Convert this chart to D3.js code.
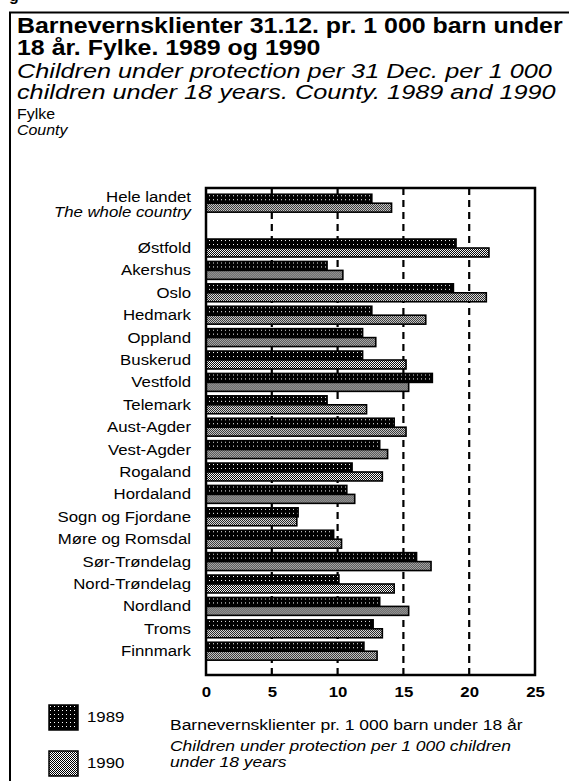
<!DOCTYPE html>
<html>
<head>
<meta charset="utf-8">
<script src="https://cdn.jsdelivr.net/npm/d3@7"></script>
<style>
  html, body { margin: 0; padding: 0; background: #fff; }
  svg { display: block; }
  text { font-family: "Liberation Sans", Arial, Helvetica, sans-serif; fill: #000; }
</style>
</head>
<body>
<svg id="chart" width="569" height="781"></svg>
<script>
// ---------------- data ----------------
const titleNo = ["Barnevernsklienter 31.12. pr. 1 000 barn under", "18 år. Fylke. 1989 og 1990"];
const titleEn = ["Children under protection per 31 Dec. per 1 000", "children under 18 years. County. 1989 and 1990"];
const categories = ["Hele landet", "Østfold", "Akershus", "Oslo", "Hedmark", "Oppland", "Buskerud",
  "Vestfold", "Telemark", "Aust-Agder", "Vest-Agder", "Rogaland", "Hordaland", "Sogn og Fjordane",
  "Møre og Romsdal", "Sør-Trøndelag", "Nord-Trøndelag", "Nordland", "Troms", "Finnmark"];
const totalLabelEn = "The whole country";
const series = ["1989", "1990"];
const values1989 = [12.6, 19.0, 9.2, 18.8, 12.6, 11.9, 11.9, 17.2, 9.2, 14.3, 13.2, 11.1, 10.7, 7.0, 9.7, 16.0, 10.1, 13.2, 12.7, 12.0];
const values1990 = [14.1, 21.5, 10.4, 21.3, 16.7, 12.9, 15.2, 15.4, 12.2, 15.2, 13.8, 13.4, 11.3, 6.9, 10.3, 17.1, 14.3, 15.4, 13.4, 13.0];
const xTicks = [0, 5, 10, 15, 20, 25];
const gridValues = [5, 10, 15, 20];
const axisTitleNo = "Barnevernsklienter pr. 1 000 barn under 18 år";
const axisTitleEn = ["Children under protection per 1 000 children", "under 18 years"];
const yLabelNo = "Fylke", yLabelEn = "County";

// ---------------- setup ----------------
const svg = d3.select("#chart");
const defs = svg.append("defs");

// 1989: black with sparse white dots
const p89 = defs.append("pattern").attr("id", "pat89").attr("patternUnits", "userSpaceOnUse")
  .attr("width", 4).attr("height", 4);
p89.append("rect").attr("width", 4).attr("height", 4).attr("fill", "#000");
p89.append("rect").attr("x", 1).attr("y", 1).attr("width", 1).attr("height", 1).attr("fill", "#fff");
// 1990: fine checker stipple
const p90 = defs.append("pattern").attr("id", "pat90").attr("patternUnits", "userSpaceOnUse")
  .attr("width", 2).attr("height", 2);
p90.append("rect").attr("width", 2).attr("height", 2).attr("fill", "#fff");
p90.append("rect").attr("x", 0).attr("y", 0).attr("width", 1).attr("height", 1).attr("fill", "#000");
p90.append("rect").attr("x", 1).attr("y", 1).attr("width", 1).attr("height", 1).attr("fill", "#000");
const fills = { "1989": "url(#pat89)", "1990": "url(#pat90)" };

function stretch(sel, sx) {
  sel.each(function () {
    const t = d3.select(this);
    const x = +t.attr("x") || 0, y = +t.attr("y") || 0;
    t.attr("transform", `translate(${x},${y}) scale(${sx},1) translate(${-x},${-y})`);
  });
}
function fitSX(node, target) { return target / node.getComputedTextLength(); }

// outer frame (partially cropped)
svg.append("path").attr("d", "M10,781 V12.5 H569").attr("fill", "none").attr("stroke", "#000").attr("stroke-width", 2);
// cropped caption fragment above frame
svg.append("text").attr("x", 9).attr("y", 1).attr("font-size", 16).attr("font-weight", "bold").text("g");

// titles
const tl = svg.append("g").selectAll("text").data(titleNo).join("text")
  .attr("x", 17).attr("y", (d, i) => 33 + i * 22.5)
  .attr("font-size", 21.5).attr("font-weight", "bold").text(d => d);
stretch(tl, fitSX(tl.nodes()[0], 546));

const sl = svg.append("g").selectAll("text").data(titleEn).join("text")
  .attr("x", 17).attr("y", (d, i) => 78 + i * 21.5)
  .attr("font-size", 21).attr("font-style", "italic").text(d => d);
stretch(sl, fitSX(sl.nodes()[1], 539));

const LSX = 1.12;
const yl = svg.append("g");
yl.append("text").attr("x", 17).attr("y", 119).attr("font-size", 14.5).text(yLabelNo);
yl.append("text").attr("x", 17).attr("y", 135.5).attr("font-size", 14.5).attr("font-style", "italic").text(yLabelEn);
stretch(yl.selectAll("text"), 1.1);

// scales
const slots = [categories[0], "__gap__", ...categories.slice(1)];
const y = d3.scaleBand().domain(slots).range([192, 662.4]).paddingInner(0.2).paddingOuter(0.1);
const ySub = d3.scaleBand().domain(series).range([0, y.bandwidth()]);
const x = d3.scaleLinear().domain([0, 25]).range([206, 535]);

// gridlines
svg.append("g").selectAll("line").data(gridValues).join("line")
  .attr("x1", d => x(d)).attr("x2", d => x(d)).attr("y1", 188).attr("y2", 675)
  .attr("stroke", "#000").attr("stroke-width", 2.2).attr("stroke-dasharray", "7,5");

// bars
const rows = categories.map((c, i) => ({ cat: c, vals: [values1989[i], values1990[i]] }));
const rowG = svg.append("g").selectAll("g").data(rows).join("g")
  .attr("transform", d => `translate(0,${y(d.cat)})`);
rowG.selectAll("rect").data(d => series.map((s, j) => ({ s, v: d.vals[j] }))).join("rect")
  .attr("x", x(0)).attr("y", d => ySub(d.s))
  .attr("width", d => x(d.v) - x(0)).attr("height", ySub.bandwidth())
  .attr("fill", d => fills[d.s]).attr("stroke", "#000").attr("stroke-width", 1.6);

// plot frame
svg.append("rect").attr("x", 206).attr("y", 188).attr("width", 329).attr("height", 487)
  .attr("fill", "none").attr("stroke", "#000").attr("stroke-width", 2.5);

// category labels
const lab = svg.append("g");
lab.selectAll("text.cat").data(categories.slice(1)).join("text").attr("class", "cat")
  .attr("x", 191).attr("y", d => y(d) + y.bandwidth() / 2 + 5)
  .attr("text-anchor", "end").attr("font-size", 15).text(d => d);
lab.append("text").attr("x", 191).attr("y", y(categories[0]) + y.bandwidth() / 2 - 1)
  .attr("text-anchor", "end").attr("font-size", 15).text(categories[0]);
lab.append("text").attr("x", 191).attr("y", y(categories[0]) + y.bandwidth() / 2 + 14)
  .attr("text-anchor", "end").attr("font-size", 15).attr("font-style", "italic").text(totalLabelEn);
stretch(lab.selectAll("text"), LSX);

// x axis
const ax = svg.append("g").attr("transform", "translate(0,675)")
  .call(d3.axisBottom(x).tickValues(xTicks).tickSize(0).tickPadding(11).tickFormat(d3.format("d")));
ax.select(".domain").remove();
ax.selectAll("text").attr("font-size", 15).attr("font-weight", "bold")
  .attr("font-family", "'Liberation Sans', Arial, sans-serif").attr("fill", "#000");
ax.selectAll("text").attr("transform", `scale(${LSX},1)`);

// axis title
const at = svg.append("g");
const at1 = at.append("text").attr("x", 170).attr("y", 730).attr("font-size", 14.5).text(axisTitleNo);
at.selectAll("text.en").data(axisTitleEn).join("text").attr("class", "en")
  .attr("x", 170).attr("y", (d, i) => 751 + i * 16).attr("font-size", 14.5).attr("font-style", "italic").text(d => d);
stretch(at.selectAll("text"), fitSX(at1.node(), 353));

// legend
const leg = svg.append("g").selectAll("g").data(series).join("g")
  .attr("transform", (d, i) => `translate(49,${705 + i * 46})`);
leg.append("rect").attr("width", 29).attr("height", 25)
  .attr("fill", d => fills[d]).attr("stroke", "#000").attr("stroke-width", 1.5);
const lt = leg.append("text").attr("x", 38).attr("y", 17).attr("font-size", 15).text(d => d);
stretch(lt, LSX);
</script>
</body>
</html>
